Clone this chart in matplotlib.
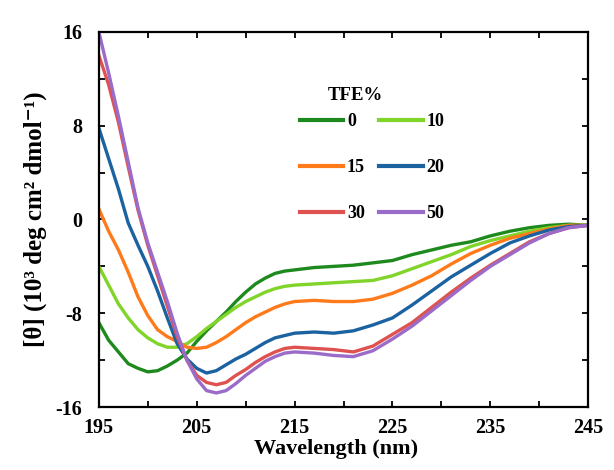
import numpy as np
import matplotlib
matplotlib.use("Agg")
import matplotlib.pyplot as plt
from matplotlib.ticker import FuncFormatter

plt.rcParams['font.family'] = ['Liberation Serif', 'DejaVu Serif']
plt.rcParams['font.weight'] = 'bold'
plt.rcParams['axes.unicode_minus'] = False

WAVELENGTH = [195, 196, 197, 198, 199, 200, 201, 202, 203, 204, 205, 206, 207, 208, 209,
              210, 211, 212, 213, 214, 215, 217, 219, 221, 223, 225, 227, 229, 231, 233,
              235, 237, 239, 241, 243, 245]

TFE_0 = [-8.8, -10.3, -11.3, -12.3, -12.7, -13.0, -12.9, -12.5, -12.0, -11.4, -10.4, -9.5,
         -8.7, -7.9, -7.0, -6.2, -5.5, -5.0, -4.6, -4.4, -4.3, -4.1, -4.0, -3.9, -3.7, -3.5,
         -3.0, -2.6, -2.2, -1.9, -1.4, -1.0, -0.7, -0.5, -0.4, -0.5]
TFE_10 = [-4.0, -5.6, -7.2, -8.4, -9.4, -10.1, -10.6, -10.9, -10.9, -10.6, -10.0, -9.3,
          -8.7, -8.1, -7.5, -7.0, -6.6, -6.2, -5.9, -5.7, -5.6, -5.5, -5.4, -5.3, -5.2, -4.8,
          -4.2, -3.6, -3.0, -2.3, -1.8, -1.4, -1.0, -0.7, -0.5, -0.5]
TFE_15 = [0.9, -1.0, -2.6, -4.5, -6.6, -8.2, -9.4, -10.0, -10.4, -10.9, -11.0, -10.9, -10.5,
          -10.0, -9.4, -8.8, -8.3, -7.9, -7.5, -7.2, -7.0, -6.9, -7.0, -7.0, -6.8, -6.3,
          -5.6, -4.8, -3.8, -2.9, -2.2, -1.6, -1.2, -0.8, -0.5, -0.5]
TFE_20 = [7.8, 5.2, 2.6, -0.3, -2.2, -4.0, -6.1, -8.4, -10.6, -11.9, -12.7, -13.1, -12.9,
          -12.4, -11.9, -11.5, -11.0, -10.5, -10.1, -9.9, -9.7, -9.6, -9.7, -9.5, -9.0, -8.4,
          -7.3, -6.1, -4.9, -3.9, -2.9, -2.0, -1.4, -0.9, -0.6, -0.5]
TFE_30 = [14.0, 11.5, 8.3, 4.5, 0.8, -2.2, -4.8, -7.4, -10.0, -12.0, -13.3, -13.9, -14.1,
          -13.9, -13.3, -12.8, -12.2, -11.7, -11.3, -11.0, -10.9, -11.0, -11.1, -11.3, -10.8,
          -9.8, -8.8, -7.5, -6.2, -5.0, -3.9, -2.9, -1.9, -1.2, -0.7, -0.5]
TFE_50 = [16.0, 12.5, 8.8, 4.9, 1.0, -2.0, -4.5, -7.0, -9.7, -12.0, -13.6, -14.6, -14.8,
          -14.6, -14.0, -13.3, -12.7, -12.1, -11.7, -11.4, -11.3, -11.4, -11.6, -11.7, -11.2,
          -10.2, -9.1, -7.8, -6.5, -5.2, -4.0, -3.0, -2.0, -1.2, -0.7, -0.5]

LABELS = ['0', '10', '15', '20', '30', '50']
COLORS = ['#1e8a1e', '#80d42a', '#ff7a1a', '#1b62a0', '#de5250', '#9a6bc8']
series = [TFE_0, TFE_10, TFE_15, TFE_20, TFE_30, TFE_50]

fig = plt.figure(figsize=(6.14, 4.70), dpi=100)
ax = fig.add_axes([0.161, 0.134, 0.797, 0.798])

lines = []
for vals, lab, col in zip(series, LABELS, COLORS):
    ln, = ax.plot(WAVELENGTH, vals, color=col, lw=2.4, label=lab)
    lines.append(ln)

ax.set_xlim(195, 245)
ax.set_ylim(-16, 16)
ax.set_xticks(np.arange(195, 246, 10))
ax.set_xticks(np.arange(200, 245, 10), minor=True)
ax.set_yticks(np.arange(-16, 17, 8))
ax.set_yticks(np.arange(-12, 13, 8), minor=True)
ax.yaxis.set_major_formatter(FuncFormatter(lambda v, p: f"{int(v)}"))
ax.tick_params(which='both', direction='in', top=True, right=True, length=4, width=1.3)
ax.tick_params(axis='x', labelsize=14.5, pad=8)
ax.tick_params(axis='y', labelsize=14.5, pad=12)
for sp in ax.spines.values():
    sp.set_linewidth(1.6)

ax.set_xlabel('Wavelength (nm)', fontsize=16, fontweight='bold', labelpad=0)
ax.xaxis.set_label_coords(0.485, -0.085)
ax.set_ylabel('[θ] (10³ deg cm² dmol⁻¹)', fontsize=18, fontweight='bold', labelpad=6)

order = [0, 2, 4, 1, 3, 5]
leg = ax.legend([lines[i] for i in order], [LABELS[i] for i in order],
                ncol=2, frameon=False, loc='upper left', bbox_to_anchor=(0.411, 0.783),
                borderpad=0, borderaxespad=0, labelspacing=1.6, handlelength=2.4,
                handletextpad=0.2, columnspacing=0.8,
                prop={'weight': 'bold', 'size': 13})
for h in leg.get_lines():
    h.set_linewidth(3.0)
ax.text(0.524, 0.83, 'TFE%', transform=ax.transAxes, ha='center', va='center',
        fontsize=13.5, fontweight='bold')

fig.savefig('out.png', dpi=100)
